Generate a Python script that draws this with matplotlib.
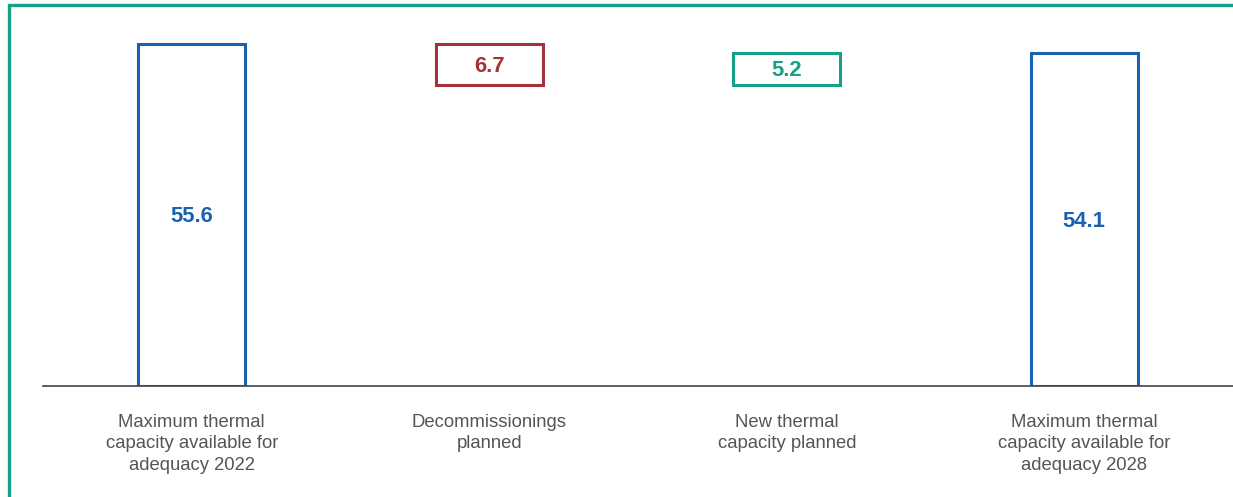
import matplotlib
matplotlib.use("Agg")
import matplotlib.pyplot as plt
from matplotlib.lines import Line2D

categories = [
    "Maximum thermal\ncapacity available for\nadequacy 2022",
    "Decommissionings\nplanned",
    "New thermal\ncapacity planned",
    "Maximum thermal\ncapacity available for\nadequacy 2028",
]
start_value = 55.6
decommissioning = 6.7
new_capacity = 5.2
end_value = 54.1
value_labels = ["55.6", "6.7", "5.2", "54.1"]

BLUE = "#1a62b0"
RED = "#a5323a"
GREEN = "#15a087"
GREY = "#555555"

plt.rcParams["font.family"] = ["Liberation Sans", "DejaVu Sans"]

W, H = 1233, 497
fig = plt.figure(figsize=(W / 100, H / 100), dpi=100)
ax = fig.add_axes([43 / W, 111 / H, 1190 / W, 366 / H])

bottoms = [0, start_value - decommissioning, start_value - decommissioning, 0]
heights = [start_value, decommissioning, new_capacity, end_value]
colors = [BLUE, RED, GREEN, BLUE]
x = list(range(len(categories)))

ax.bar(x, heights, bottom=bottoms, width=0.36, facecolor="white",
       edgecolor=colors, linewidth=2.2)
for xi, b, h, c, lab in zip(x, bottoms, heights, colors, value_labels):
    ax.text(xi, b + h / 2 - 0.25, lab, ha="center", va="center", color=c,
            fontsize=15.8, fontweight="bold")

ax.set_xlim(-0.5, 3.5)
ax.set_ylim(0, 59.5)
ax.set_yticks([])
ax.set_xticks(x)
ax.set_xticklabels(categories, fontsize=13.3, color=GREY, linespacing=1.34)
ax.tick_params(axis="x", length=0, pad=20)
for s in ["top", "right", "left"]:
    ax.spines[s].set_visible(False)
ax.spines["bottom"].set_color("#444444")
ax.spines["bottom"].set_linewidth(1.2)

# green frame (left and top edges)
fx = 8.5 / W
fy = 1 - 4.5 / H
fig.add_artist(Line2D([fx, fx, 1.0], [0.0, fy, fy], transform=fig.transFigure,
                      color=GREEN, linewidth=2.4, solid_joinstyle="miter"))

fig.savefig("out.png", dpi=100)
